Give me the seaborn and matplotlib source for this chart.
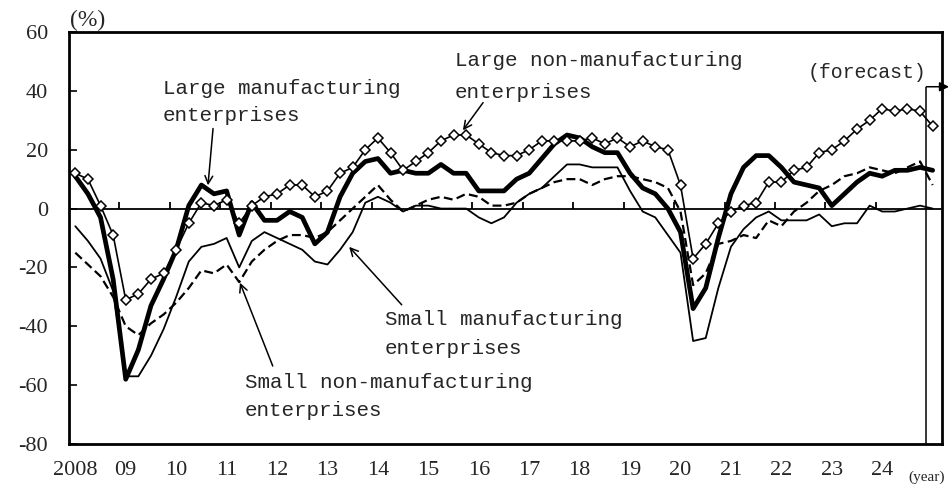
import matplotlib
matplotlib.use("Agg")
import matplotlib.pyplot as plt
import numpy as np
import pandas as pd
import seaborn as sns

# ---------------- data (DI, % points), quarterly 2008Q1 .. 2024Q4, plus 2025Q1 forecast
quarters = [f"{y}Q{q}" for y in range(2008, 2025) for q in range(1, 5)] + ["2025Q1"]

large_mfg = [11, 5, -3, -24,
             -58, -48, -33, -24,
             -14, 1, 8, 5,
             6, -9, 2, -4,
             -4, -1, -3, -12,
             -8, 4, 12, 16,
             17, 12, 13, 12,
             12, 15, 12, 12,
             6, 6, 6, 10,
             12, 17, 22, 25,
             24, 21, 19, 19,
             12, 7, 5, 0,
             -8, -34, -27, -10,
             5, 14, 18, 18,
             14, 9, 8, 7,
             1, 5, 9, 12,
             11, 13, 13, 14,
             13]

large_nonmfg = [12, 10, 1, -9,
                -31, -29, -24, -22,
                -14, -5, 2, 1,
                3, -5, 1, 4,
                5, 8, 8, 4,
                6, 12, 14, 20,
                24, 19, 13, 16,
                19, 23, 25, 25,
                22, 19, 18, 18,
                20, 23, 23, 23,
                23, 24, 22, 24,
                21, 23, 21, 20,
                8, -17, -12, -5,
                -1, 1, 2, 9,
                9, 13, 14, 19,
                20, 23, 27, 30,
                34, 33, 34, 33,
                28]

small_mfg = [-6, -11, -17, -28,
             -57, -57, -50, -41,
             -30, -18, -13, -12,
             -10, -20, -11, -8,
             -10, -12, -14, -18,
             -19, -14, -8, 2,
             4, 2, -1, 1,
             1, 0, 0, 0,
             -3, -5, -3, 2,
             5, 7, 11, 15,
             15, 14, 14, 14,
             6, -1, -3, -9,
             -15, -45, -44, -27,
             -13, -7, -3, -1,
             -4, -4, -4, -2,
             -6, -5, -5, 1,
             -1, -1, 0, 1,
             0]

small_nonmfg = [-15, -19, -23, -30,
                -40, -43, -39, -36,
                -32, -27, -21, -22,
                -19, -25, -18, -14,
                -11, -9, -9, -10,
                -8, -4, 0, 4,
                8, 3, -1, 1,
                3, 4, 3, 5,
                4, 1, 1, 2,
                5, 7, 9, 10,
                10, 8, 10, 11,
                11, 10, 9, 7,
                -1, -26, -22, -12,
                -11, -9, -10, -4,
                -6, -1, 2, 6,
                8, 11, 12, 14,
                13, 12, 14, 16,
                8]

year_labels = ["2008", "09", "10", "11", "12", "13", "14", "15", "16",
               "17", "18", "19", "20", "21", "22", "23", "24"]
y_ticks = [-80, -60, -40, -20, 0, 20, 40, 60]
forecast_start = "2025Q1"


def qpos(s):
    y, q = s.split("Q")
    return int(y) + (int(q) - 0.5) / 4.0


df = pd.DataFrame({
    "x": [qpos(s) for s in quarters],
    "large_mfg": large_mfg,
    "large_nonmfg": large_nonmfg,
    "small_mfg": small_mfg,
    "small_nonmfg": small_nonmfg,
})

# ---------------- styling
sns.set_style("white")
plt.rcParams["font.family"] = ["Liberation Serif", "DejaVu Serif"]

W, H = 950, 486
fig = plt.figure(figsize=(W / 100, H / 100), dpi=100)
ax_left, ax_right, ax_top, ax_bot = 69, 942, 32, 444
ax = fig.add_axes([ax_left / W, 1 - ax_bot / H, (ax_right - ax_left) / W, (ax_bot - ax_top) / H])

first_year = int(year_labels[0])
ax.set_xlim(first_year, first_year + 17.31)
ax.set_ylim(y_ticks[0], y_ticks[-1])

# zero line and year ticks on it
ax.axhline(0, color="black", lw=1.3, zorder=1)
year_bounds = [first_year + i for i in range(1, len(year_labels))]
ax.vlines(year_bounds, 0, 2.4, color="black", lw=1.3, zorder=1)

# series
sns.lineplot(data=df, x="x", y="small_mfg", ax=ax, color="black", lw=1.3, zorder=2)
sns.lineplot(data=df, x="x", y="small_nonmfg", ax=ax, color="black", lw=1.6,
             dashes=False, zorder=2).lines[-1].set_dashes((4, 2))
sns.lineplot(data=df, x="x", y="large_mfg", ax=ax, color="black", lw=3.4, zorder=3)
sns.lineplot(data=df, x="x", y="large_nonmfg", ax=ax, color="black", lw=1.2,
             marker="D", markersize=5.6, markerfacecolor="white",
             markeredgecolor="black", markeredgewidth=1.1, zorder=4)

# axes cosmetics
for side in ["left", "right", "top", "bottom"]:
    ax.spines[side].set_visible(True)
    ax.spines[side].set_color("black")
    ax.spines[side].set_linewidth(2.0)

ax.set_yticks(y_ticks)
ax.set_yticklabels([str(v) for v in y_ticks])
ax.tick_params(axis="y", direction="in", length=5.5, width=1.4, pad=15,
               labelsize=16, left=True)
ax.set_xticks([first_year + i + 0.125 for i in range(len(year_labels))])
ax.set_xticklabels(year_labels)
ax.tick_params(axis="x", length=0, pad=12.5, labelsize=16, bottom=True)
ax.set_xlabel("")
ax.set_ylabel("")
ax.grid(False)

# forecast marker
fx = qpos(forecast_start) - 0.125
ax.vlines(fx, y_ticks[0], 41.4, color="black", lw=1.1, zorder=5)
ax.annotate("", xy=(fx + 0.45, 41.4), xytext=(fx, 41.4),
            arrowprops=dict(arrowstyle="-|>", color="black", lw=1.1,
                            mutation_scale=14, shrinkA=0, shrinkB=0),
            annotation_clip=False)

mono = ["Liberation Mono", "DejaVu Sans Mono"]
fs = 15
ax.text(fx, 46.2, "(forecast)", ha="right", va="center", fontsize=14.3, family=mono)

# series labels
arrow_kw = dict(arrowstyle="->", color="black", lw=1.1, mutation_scale=14,
                shrinkA=0, shrinkB=0)

ax.text(2009.864, 40.8, "Large manufacturing", ha="left", va="center", fontsize=fs, family=mono)
ax.text(2009.864, 31.6, "enterprises", ha="left", va="center", fontsize=fs, family=mono)
ax.annotate("", xy=(2010.756, 7.9), xytext=(2010.856, 27.2), arrowprops=arrow_kw)

ax.text(2015.654, 50.3, "Large non-manufacturing", ha="left", va="center", fontsize=fs, family=mono)
ax.text(2015.654, 39.4, "enterprises", ha="left", va="center", fontsize=fs, family=mono)
ax.annotate("", xy=(2015.81, 26.6), xytext=(2016.21, 36.0), arrowprops=arrow_kw)

ax.text(2014.266, -37.7, "Small manufacturing", ha="left", va="center", fontsize=fs, family=mono)
ax.text(2014.266, -47.5, "enterprises", ha="left", va="center", fontsize=fs, family=mono)
ax.annotate("", xy=(2013.555, -13.0), xytext=(2014.597, -32.7), arrowprops=arrow_kw)

ax.text(2011.49, -59.0, "Small non-manufacturing", ha="left", va="center", fontsize=fs, family=mono)
ax.text(2011.49, -68.6, "enterprises", ha="left", va="center", fontsize=fs, family=mono)
ax.annotate("", xy=(2011.39, -25.2), xytext=(2012.04, -53.5), arrowprops=arrow_kw)

# unit labels
fig.text(70 / W, 1 - 20 / H, "(%)", ha="left", va="center", fontsize=17)
fig.text(945 / W, 1 - 484 / H, "(year)", ha="right", va="bottom", fontsize=11)

fig.savefig("out.png", dpi=100)
